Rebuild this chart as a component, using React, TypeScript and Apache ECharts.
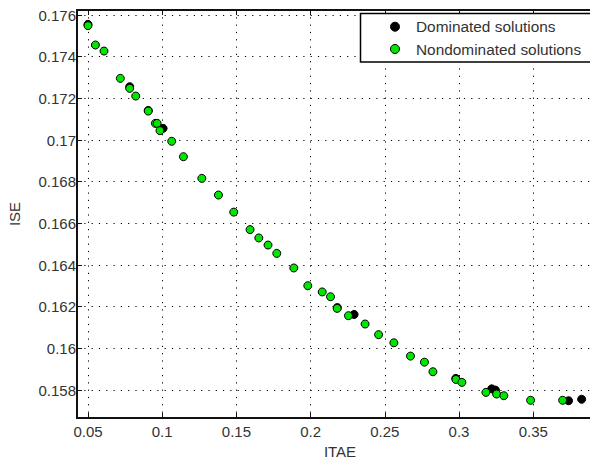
import React, { useEffect, useRef } from 'react';
import * as echarts from 'echarts';

// Dominated solutions (black)
const domX = [0.0500, 0.0781, 0.0906, 0.1006, 0.2180, 0.2293, 0.2978, 0.3220, 0.3245, 0.3738, 0.3826];
const domY = [0.17555, 0.17256, 0.17142, 0.17056, 0.16196, 0.16163, 0.15856, 0.15806, 0.15800, 0.15749, 0.15756];

// Nondominated solutions (green)
const ndX = [
  0.0500, 0.0550, 0.0608, 0.0718, 0.0781, 0.0822, 0.0906, 0.0954, 0.0966, 0.0985,
  0.1064, 0.1143, 0.1267, 0.1379, 0.1482, 0.1592, 0.1651, 0.1713, 0.1772, 0.1887,
  0.1981, 0.2078, 0.2134, 0.2179, 0.2255, 0.2367, 0.2458, 0.2561, 0.2673, 0.2767,
  0.2824, 0.2979, 0.3019, 0.3181, 0.3253, 0.3302, 0.3482, 0.3698,
];
const ndY = [
  0.17549, 0.17456, 0.17427, 0.17296, 0.17248, 0.17211, 0.17139, 0.17080, 0.17080, 0.17045,
  0.16994, 0.16920, 0.16816, 0.16736, 0.16654, 0.16570, 0.16530, 0.16496, 0.16456, 0.16386,
  0.16301, 0.16271, 0.16248, 0.16192, 0.16157, 0.16117, 0.16066, 0.16027, 0.15963, 0.15934,
  0.15888, 0.15851, 0.15837, 0.15789, 0.15781, 0.15773, 0.15751, 0.15751,
];

const seriesNames = ['Dominated solutions', 'Nondominated solutions'];
const seriesColors = ['#000000', '#00e600'];

const xRange = [0.0426, 0.397];
const yRange = [0.15666, 0.17624];
const xStep = 0.05;
const yStep = 0.002;

const FONT = '"Liberation Sans", Arial, Helvetica, sans-serif';

const fmt = (step: number, digits: number) => (v: number) => {
  const r = Math.round(v / step);
  if (Math.abs(v - r * step) > step * 1e-4) return '';
  return String(Number((r * step).toFixed(digits)));
};

export default function App() {
  const ref = useRef<HTMLDivElement>(null);
  useEffect(() => {
    if (!ref.current) return;
    const chart = echarts.init(ref.current, undefined, { renderer: 'svg' });
    const dotted = { color: '#000', width: 1, type: [1.2, 6.1] as any };
    const legendRows = [26.7, 49];
    const legendGraphic: any[] = [
      {
        type: 'rect',
        z: 10,
        silent: true,
        shape: { x: 360.5, y: 13.5, width: 260, height: 48.5 },
        style: { fill: '#fff', stroke: '#000', lineWidth: 1.5 },
      },
    ];
    seriesNames.forEach((name, i) => {
      legendGraphic.push({
        type: 'circle',
        z: 11,
        silent: true,
        shape: { cx: 395, cy: legendRows[i], r: 4.5 },
        style: { fill: seriesColors[i], stroke: '#000', lineWidth: 1 },
      });
      legendGraphic.push({
        type: 'text',
        z: 11,
        silent: true,
        x: 416,
        y: legendRows[i],
        style: { text: name, fill: '#333', font: `15.4px ${FONT}`, verticalAlign: 'middle', align: 'left' },
      });
    });
    chart.setOption({
      animation: false,
      backgroundColor: '#fff',
      textStyle: { fontFamily: FONT },
      grid: { left: 77, top: 10, right: -13, bottom: 44, outerBoundsMode: 'none' } as any,
      graphic: legendGraphic,
      xAxis: [
        {
          type: 'value',
          min: xRange[0],
          max: xRange[1],
          splitNumber: 7,
          name: 'ITAE',
          nameLocation: 'middle',
          nameGap: 26,
          nameTextStyle: { fontSize: 15, color: '#333', fontFamily: FONT },
          axisLine: { show: true, lineStyle: { color: '#111', width: 2 } },
          axisTick: { show: true, inside: true, length: 5, lineStyle: { color: '#111', width: 1 } },
          axisLabel: { margin: 6, fontSize: 15, color: '#333', fontFamily: FONT, formatter: fmt(xStep, 2) },
          splitLine: { show: true, lineStyle: dotted },
        },
        {
          type: 'value',
          position: 'top',
          min: xRange[0],
          max: xRange[1],
          splitNumber: 7,
          axisLine: { show: true, lineStyle: { color: '#111', width: 2 } },
          axisTick: { show: true, inside: true, length: 5, lineStyle: { color: '#111', width: 1 } },
          axisLabel: { show: false },
          splitLine: { show: false },
        },
      ],
      yAxis: {
        type: 'value',
        min: yRange[0],
        max: yRange[1],
        splitNumber: 10,
        name: 'ISE',
        nameLocation: 'middle',
        nameGap: 55,
        nameTextStyle: { fontSize: 15, color: '#333', fontFamily: FONT },
        axisLine: { show: true, lineStyle: { color: '#111', width: 2 } },
        axisTick: { show: true, inside: true, length: 5, lineStyle: { color: '#111', width: 1 } },
        axisLabel: { margin: 1, fontSize: 15, color: '#333', fontFamily: FONT, formatter: fmt(yStep, 3) },
        splitLine: { show: true, lineStyle: dotted },
      },
      series: [
        {
          name: seriesNames[0],
          type: 'scatter',
          symbol: 'circle',
          symbolSize: 8,
          itemStyle: { color: seriesColors[0], borderColor: '#000', borderWidth: 1, opacity: 1 },
          data: domX.map((x, i) => [x, domY[i]]),
        },
        {
          name: seriesNames[1],
          type: 'scatter',
          symbol: 'circle',
          symbolSize: 8,
          itemStyle: { color: seriesColors[1], borderColor: '#000', borderWidth: 1, opacity: 1 },
          data: ndX.map((x, i) => [x, ndY[i]]),
        },
      ],
    });
    return () => chart.dispose();
  }, []);
  return (
    <div
      ref={ref}
      style={{ position: 'fixed', left: 0, top: 0, width: 590, height: 462, background: '#fff' }}
    />
  );
}
